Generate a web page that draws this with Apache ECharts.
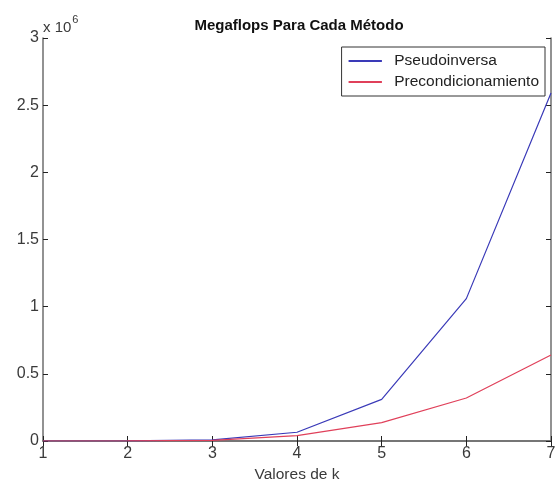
<!DOCTYPE html>
<html>
<head>
<meta charset="utf-8">
<script src="https://cdn.jsdelivr.net/npm/echarts@6/dist/echarts.min.js"></script>
<style>html,body{margin:0;padding:0;background:#fff}#c{width:559px;height:485px}</style>
</head>
<body>
<div id="c"></div>
<script>
const kValues = [1, 2, 3, 4, 5, 6, 7];
const pseudoinversa = [0, 600, 9000, 65000, 310000, 1060000, 2590000];
const precondicionamiento = [0, 300, 5000, 40000, 137000, 320000, 640000];
const yTicks = [0, 0.5, 1, 1.5, 2, 2.5, 3];
const seriesNames = ['Pseudoinversa', 'Precondicionamiento'];

const font = 'Liberation Sans, Arial, sans-serif';
const axisColor = '#6e6e6e';
const labelColor = '#3a3a3a';
const chart = echarts.init(document.getElementById('c'));
const gridBox = {left: 43, right: 8, top: 38, bottom: 44, outerBoundsMode: 'none', containLabel: false};
chart.setOption({
  animation: false,
  backgroundColor: '#fff',
  title: {
    text: 'Megaflops Para Cada Método',
    left: 294, top: 13, textAlign: 'center',
    textStyle: {fontFamily: font, fontSize: 15, fontWeight: 'bold', color: '#111'}
  },
  legend: {
    data: seriesNames.map(n => ({name: n, icon: 'path://M0,0L1,0L1,0.06L0,0.06Z'})),
    orient: 'vertical', right: 14, top: 47,
    itemWidth: 54, itemHeight: 2, itemGap: 5,
    padding: [6, 6, 6, 7],
    borderColor: '#333', borderWidth: 1, backgroundColor: '#fff',
    textStyle: {fontFamily: font, fontSize: 15.5, color: '#222', padding: [0, 0, 0, -3]}
  },
  grid: gridBox,
  xAxis: [{
    type: 'value', min: 1, max: 7, interval: 1,
    name: 'Valores de k', nameLocation: 'middle', nameGap: 25,
    nameTextStyle: {fontFamily: font, fontSize: 15.5, color: labelColor},
    axisLine: {lineStyle: {color: axisColor, width: 1.5}},
    axisTick: {inside: true, length: 5, lineStyle: {color: '#222'}},
    axisLabel: {fontFamily: font, fontSize: 16, color: labelColor, margin: 5},
    splitLine: {show: false}
  }, {
    type: 'value', min: 1, max: 7, interval: 1, position: 'top',
    axisLine: {lineStyle: {color: axisColor, width: 1.5}},
    axisTick: {inside: true, length: 5, lineStyle: {color: '#222'}},
    axisLabel: {show: false}, splitLine: {show: false}
  }],
  yAxis: [{
    type: 'value', min: 0, max: 3000000, interval: 500000,
    axisLine: {show: true, lineStyle: {color: axisColor, width: 1.5}},
    axisTick: {show: true, inside: true, length: 5, lineStyle: {color: '#222'}},
    axisLabel: {fontFamily: font, fontSize: 16, color: labelColor, margin: 4,
      formatter: v => String(yTicks[Math.round(v / 500000)])},
    splitLine: {show: false}
  }, {
    type: 'value', min: 0, max: 3000000, interval: 500000, position: 'right',
    axisLine: {show: true, lineStyle: {color: axisColor, width: 1.5}},
    axisTick: {show: true, inside: true, length: 5, lineStyle: {color: '#222'}},
    axisLabel: {show: false}, splitLine: {show: false}
  }],
  graphic: [{
    type: 'text', left: 43, top: 14,
    style: {
      text: '{a|x 10}{b|6}',
      rich: {
        a: {fontFamily: font, fontSize: 15, fill: labelColor, padding: [8, 0, 0, 0]},
        b: {fontFamily: font, fontSize: 11, fill: labelColor, padding: [0, 0, 8, 1]}
      }
    }
  }],
  series: [{
    name: seriesNames[0], type: 'line', showSymbol: false, symbol: 'none',
    data: kValues.map((k, i) => [k, pseudoinversa[i]]),
    lineStyle: {color: '#3a3ab8', width: 1.2}, itemStyle: {color: '#3a3ab8'}
  }, {
    name: seriesNames[1], type: 'line', showSymbol: false, symbol: 'none',
    data: kValues.map((k, i) => [k, precondicionamiento[i]]),
    lineStyle: {color: '#e0405a', width: 1.2}, itemStyle: {color: '#e0405a'}
  }]
});
</script>
</body>
</html>
